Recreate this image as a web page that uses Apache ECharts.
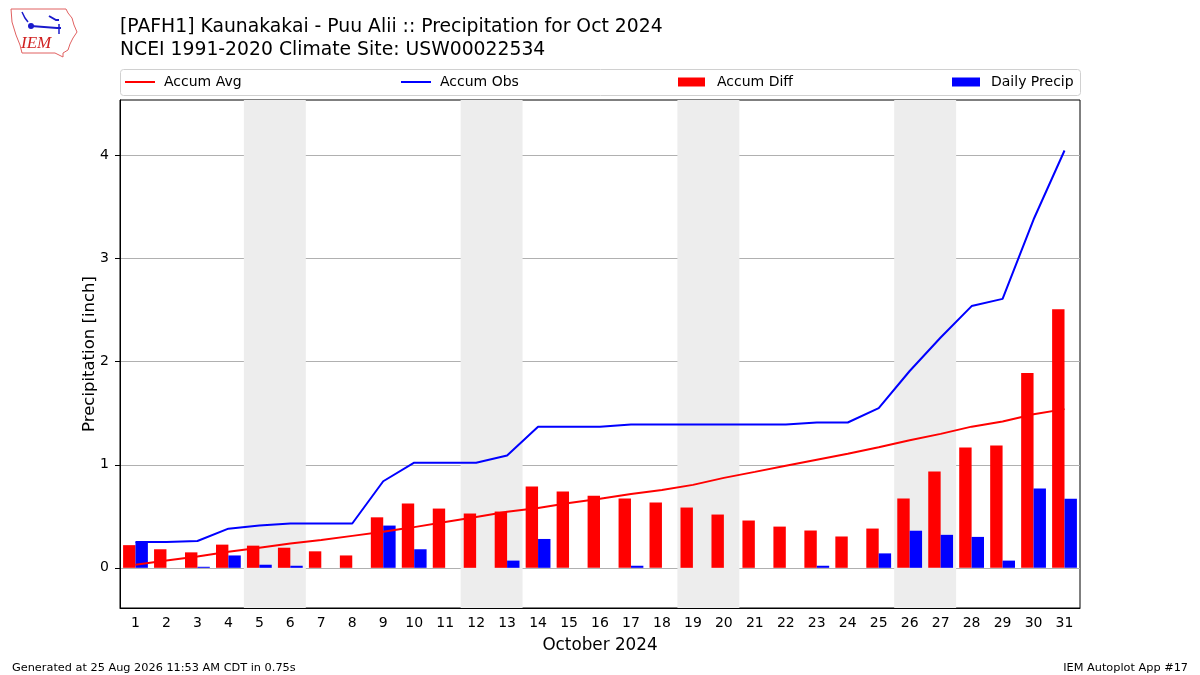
<!DOCTYPE html>
<html>
<head>
<meta charset="utf-8">
<script src="https://cdn.jsdelivr.net/npm/echarts@6/dist/echarts.min.js"></script>
<style>
  html, body { margin: 0; padding: 0; background: #fff; }
  #chart { width: 1200px; height: 675px; }
</style>
</head>
<body>
<div id="chart"></div>
<script>
// days of October 2024
const days = ['1','2','3','4','5','6','7','8','9','10','11','12','13','14','15','16',
  '17','18','19','20','21','22','23','24','25','26','27','28','29','30','31'];
// accumulated climatology (inch)
const accumAvg = [0.03, 0.07, 0.11, 0.155, 0.195, 0.235, 0.27, 0.31, 0.35, 0.395, 0.445,
  0.493, 0.544, 0.58, 0.63, 0.67, 0.717, 0.756, 0.805, 0.873, 0.931, 0.99, 1.048, 1.106,
  1.17, 1.237, 1.30, 1.37, 1.42, 1.49, 1.54];
// accumulated observed
const accumObs = [0.25, 0.25, 0.26, 0.38, 0.41, 0.43, 0.43, 0.43, 0.84, 1.02, 1.02, 1.02,
  1.09, 1.37, 1.37, 1.37, 1.39, 1.39, 1.39, 1.39, 1.39, 1.39, 1.41, 1.41, 1.55, 1.91,
  2.235, 2.54, 2.61, 3.38, 4.05];
// obs minus avg
const accumDiff = [0.22, 0.18, 0.15, 0.225, 0.215, 0.195, 0.16, 0.12, 0.49, 0.625, 0.575,
  0.527, 0.546, 0.79, 0.74, 0.70, 0.673, 0.634, 0.585, 0.517, 0.459, 0.40, 0.362, 0.304,
  0.381, 0.673, 0.935, 1.168, 1.187, 1.89, 2.51];
const dailyPrecip = [0.25, 0, 0.01, 0.12, 0.03, 0.02, 0, 0, 0.41, 0.18, 0, 0, 0.07, 0.28,
  0, 0, 0.02, 0, 0, 0, 0, 0, 0.02, 0, 0.14, 0.36, 0.32, 0.30, 0.07, 0.77, 0.67];
// weekend day pairs (shaded)
const weekends = [[5, 6], [12, 13], [19, 20], [26, 27]];
const yTicks = [0, 1, 2, 3, 4];

const chart = echarts.init(document.getElementById('chart'));
const font = 'DejaVu Sans';
const txt = '#000';

const option = {
  animation: false,
  textStyle: { fontFamily: font },
  title: [
    {
      text: '[PAFH1] Kaunakakai - Puu Alii :: Precipitation for Oct 2024\nNCEI 1991-2020 Climate Site: USW00022534',
      left: 115, top: 11,
      textStyle: { fontFamily: font, fontSize: 18.8, fontWeight: 'normal', color: txt, lineHeight: 23 }
    },
    {
      text: 'Generated at 25 Aug 2026 11:53 AM CDT in 0.75s',
      left: 7, top: 658,
      textStyle: { fontFamily: font, fontSize: 11.3, fontWeight: 'normal', color: txt }
    },
    {
      text: 'IEM Autoplot App #17',
      right: 7, top: 658,
      textStyle: { fontFamily: font, fontSize: 11.3, fontWeight: 'normal', color: txt }
    }
  ],
  legend: [
    { data: ['Accum Avg'], left: 120, top: 70, icon: 'rect', itemWidth: 30, itemHeight: 2,
      textStyle: { fontFamily: font, fontSize: 14, color: txt, padding: [0, 0, 0, 4] } },
    { data: ['Accum Obs'], left: 396, top: 70, icon: 'rect', itemWidth: 30, itemHeight: 2,
      textStyle: { fontFamily: font, fontSize: 14, color: txt, padding: [0, 0, 0, 4] } },
    { data: ['Accum Diff'], left: 673, top: 70, icon: 'rect', itemWidth: 27, itemHeight: 9,
      textStyle: { fontFamily: font, fontSize: 14, color: txt, padding: [0, 0, 0, 7] } },
    { data: ['Daily Precip'], left: 947, top: 70, icon: 'rect', itemWidth: 28, itemHeight: 9,
      textStyle: { fontFamily: font, fontSize: 14, color: txt, padding: [0, 0, 0, 6] } }
  ],
  grid: {
    left: 120, right: 120, top: 100, bottom: 67,
    show: true, borderColor: '#000', borderWidth: 1, backgroundColor: 'transparent'
  },
  xAxis: [
    {
      type: 'category',
      data: days,
      name: 'October 2024',
      nameLocation: 'middle',
      nameGap: 29,
      nameTextStyle: { fontFamily: font, fontSize: 16.8, color: txt },
      axisLine: { onZero: false, lineStyle: { color: '#000' } },
      axisTick: { alignWithLabel: true, length: 5, lineStyle: { color: '#000' } },
      axisLabel: { fontFamily: font, fontSize: 14, color: txt, margin: 8, interval: 0 },
      splitLine: { show: false }
    },
    { type: 'value', min: 0.5, max: 31.5, show: false }
  ],
  yAxis: {
    type: 'value',
    min: -0.39, max: 4.54,
    name: 'Precipitation [inch]',
    nameLocation: 'middle',
    nameGap: 22,
    nameMoveOverlap: false,
    nameTextStyle: { fontFamily: font, fontSize: 16.5, color: txt },
    axisLine: { show: true, lineStyle: { color: '#000' } },
    axisTick: { show: true, length: 5, customValues: yTicks, lineStyle: { color: '#000' } },
    axisLabel: { fontFamily: font, fontSize: 14, color: txt, margin: 11, customValues: yTicks },
    splitLine: { show: true, lineStyle: { color: '#b0b0b0', width: 1 } }
  },
  series: [
    {
      name: 'weekends', type: 'line', xAxisIndex: 1, data: [], silent: true,
      markArea: {
        silent: true,
        itemStyle: { color: '#ededed' },
        data: weekends.map(w => [{ xAxis: w[0] - 0.5 }, { xAxis: w[1] + 0.5 }])
      },
      z: 0
    },
    {
      name: 'Accum Diff', type: 'bar', data: accumDiff,
      barWidth: 12.4, barGap: '0%',
      itemStyle: { color: '#ff0000' }, z: 2
    },
    {
      name: 'Daily Precip', type: 'bar', data: dailyPrecip,
      barWidth: 12.4, barGap: '0%',
      itemStyle: { color: '#0000ff' }, z: 2
    },
    {
      name: 'Accum Avg', type: 'line', data: accumAvg, showSymbol: false, symbol: 'none',
      lineStyle: { color: '#ff0000', width: 2 }, itemStyle: { color: '#ff0000' }, z: 3
    },
    {
      name: 'Accum Obs', type: 'line', data: accumObs, showSymbol: false, symbol: 'none',
      lineStyle: { color: '#0000ff', width: 2 }, itemStyle: { color: '#0000ff' }, z: 3
    }
  ],
  graphic: [
    // legend frame
    { type: 'rect', left: 120, top: 69, z: -1,
      shape: { width: 960, height: 26, r: 3 },
      style: { fill: '#fff', stroke: '#d0d0d0', lineWidth: 1 } },
    // IEM logo (rough)
    { type: 'polyline', z: 10,
      shape: { points: [[11, 9], [66, 9], [68, 13], [72, 18], [74, 25], [77, 32], [73, 38],
        [70, 44], [68, 50], [63, 53], [63, 57], [55, 53], [22, 53], [20, 45], [16, 35],
        [12, 22], [11, 9]] },
      style: { stroke: '#e06060', fill: null, lineWidth: 1 } },
    { type: 'polyline', z: 10,
      shape: { points: [[31, 26], [57, 28], [61, 28]] },
      style: { stroke: '#1a1acc', lineWidth: 2 } },
    { type: 'circle', z: 10, shape: { cx: 31, cy: 26, r: 3 }, style: { fill: '#1a1acc' } },
    { type: 'polyline', z: 10, shape: { points: [[22, 12], [25, 18], [28, 22]] },
      style: { stroke: '#1a1acc', lineWidth: 1.5 } },
    { type: 'polyline', z: 10, shape: { points: [[49, 16], [56, 20], [59, 20]] },
      style: { stroke: '#1a1acc', lineWidth: 2 } },
    { type: 'polyline', z: 10, shape: { points: [[59, 24], [59, 34]] },
      style: { stroke: '#1a1acc', lineWidth: 1.5 } },
    { type: 'text', left: 21, top: 35, z: 10,
      style: { text: 'IEM', font: 'italic 17px "Liberation Serif"', fill: '#d02020' } }
  ]
};

chart.setOption(option);
</script>
</body>
</html>
